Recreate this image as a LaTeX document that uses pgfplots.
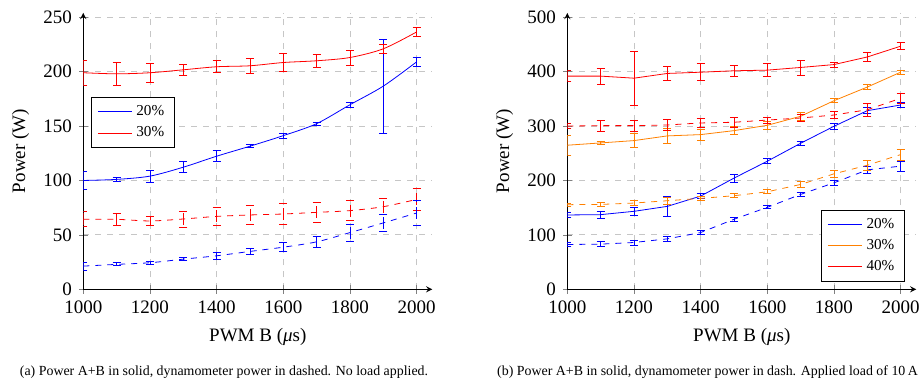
\documentclass[border=0pt]{standalone}
\usepackage{fontspec}
\setmainfont{Liberation Serif}
\usepackage{pgfplots}
\pgfplotsset{compat=1.18}
\pgfplotsset{
  myaxis/.style={
    scale only axis, width=174.5pt, height=138.2pt,
    xmin=1000, xmax=2047, ymin=0,
    axis lines=left,
    grid=major, grid style={dashed, gray!45},
    xtick={1000,1200,...,2000},
    tick label style={font=\fontsize{9.5}{11}\selectfont},
    label style={font=\fontsize{9.5}{11}\selectfont},
    /pgf/number format/assume math mode=true,
    /pgf/number format/1000 sep={},
    xlabel={PWM B ({\itshape μ}s)},
    ylabel={Power (W)},
    xlabel style={at={(axis description cs:0.5,-0.174)}, anchor=center},
    ylabel style={at={(axis description cs:-0.18,0.5)}, anchor=center},
    legend style={font=\fontsize{7.6}{8.5}\selectfont, draw=black, fill=white},
    every axis plot/.append style={mark=none},
  },
  eb/.style={error bars/y dir=both, error bars/y explicit},
}
\begin{document}
\begin{tikzpicture}
\path[use as bounding box] (-41.65pt,-47.35pt) rectangle (418.35pt,144.65pt);
% ---------------- (a) ----------------
\begin{axis}[myaxis, at={(0pt,0pt)}, anchor=south west,
  ymax=254, ytick={0,50,...,250},
  legend style={at={(axis description cs:0.022,0.696)}, anchor=north west}]
\addplot[blue, smooth, eb] coordinates {
 (1000,100) +- (0,8) (1100,101) +- (0,2.1) (1200,104) +- (0,5.5)
 (1300,112.2) +- (0,5) (1400,122.3) +- (0,4.9) (1500,131.5) +- (0,1.3)
 (1600,141.2) +- (0,2.3) (1700,152.2) +- (0,1.4) (1800,169.6) +- (0,2)
 (1900,186.7) +- (0,43.2) (2000,209) +- (0,4.4)};
\addlegendentry{20\%}
\addplot[red, smooth, eb] coordinates {
 (1000,199) +- (0,11.5) (1100,198) +- (0,10.7) (1200,199) +- (0,8.7)
 (1300,201.7) +- (0,4.9) (1400,204.5) +- (0,5.5) (1500,205.4) +- (0,6.9)
 (1600,208.4) +- (0,8) (1700,210) +- (0,5.9) (1800,213) +- (0,6.9)
 (1900,221) +- (0,4) (2000,236.5) +- (0,4.3)};
\addlegendentry{30\%}
\addplot[red, dashed, smooth, eb, forget plot] coordinates {
 (1000,64.3) +- (0,6.9) (1100,64.3) +- (0,5.5) (1200,62.8) +- (0,4.3)
 (1300,64.6) +- (0,7.4) (1400,67) +- (0,8.5) (1500,68.3) +- (0,8.9)
 (1600,69.2) +- (0,9.5) (1700,70.7) +- (0,9.2) (1800,72.3) +- (0,9)
 (1900,75.9) +- (0,7.2) (2000,82.6) +- (0,9.9)};
\addplot[blue, dashed, smooth, eb, forget plot] coordinates {
 (1000,21.3) +- (0,3.7) (1100,22.9) +- (0,1.4) (1200,24.4) +- (0,1.2)
 (1300,27.7) +- (0,1.4) (1400,30.8) +- (0,2.9) (1500,34.8) +- (0,2.5)
 (1600,38.7) +- (0,4.1) (1700,43.6) +- (0,5.4) (1800,52.1) +- (0,7.8)
 (1900,61) +- (0,7.8) (2000,70.1) +- (0,11.2)};
\end{axis}
% ---------------- (b) ----------------
\begin{axis}[myaxis, at={(242pt,0pt)}, anchor=south west,
  ymax=508, ytick={0,100,...,500},
  legend style={at={(axis description cs:0.967,0.0275)}, anchor=south east}]
\addplot[blue, eb] coordinates {
 (1000,136.6) +- (0,4.3) (1100,137.2) +- (0,6.4) (1200,143.3) +- (0,6.7)
 (1300,152.4) +- (0,18.3) (1400,171.3) +- (0,4.5) (1500,204.3) +- (0,7.7)
 (1600,235.4) +- (0,4.6) (1700,268.4) +- (0,3.6) (1800,299.6) +- (0,5.5)
 (1900,328.3) +- (0,5.8) (2000,338.7) +- (0,4.6)};
\addlegendentry{20\%}
\addplot[orange, eb] coordinates {
 (1000,264.8) +- (0,18.5) (1100,269) +- (0,3.3) (1200,273.3) +- (0,12.5)
 (1300,281.9) +- (0,13.6) (1400,284.3) +- (0,9.8) (1500,291.6) +- (0,7.3)
 (1600,301.4) +- (0,7.5) (1700,318) +- (0,6.7) (1800,346.6) +- (0,4)
 (1900,371.7) +- (0,4.3) (2000,399) +- (0,4)};
\addlegendentry{30\%}
\addplot[red, eb] coordinates {
 (1000,391.8) +- (0,9.8) (1100,391.8) +- (0,14.7) (1200,388) +- (0,49.5)
 (1300,396.7) +- (0,13.5) (1400,399) +- (0,15.3) (1500,401.6) +- (0,9.7)
 (1600,402.8) +- (0,11.6) (1700,407.7) +- (0,13.7) (1800,413) +- (0,4.3)
 (1900,427) +- (0,8.7) (2000,446.8) +- (0,6.4)};
\addlegendentry{40\%}
\addplot[blue, dashed, eb, forget plot] coordinates {
 (1000,82.3) +- (0,4.3) (1100,83) +- (0,4.9) (1200,86) +- (0,4.6)
 (1300,92.7) +- (0,4) (1400,104.3) +- (0,4.3) (1500,128.7) +- (0,3)
 (1600,150.6) +- (0,2.7) (1700,174.4) +- (0,3.7) (1800,195.7) +- (0,4.3)
 (1900,219.5) +- (0,6.6) (2000,226.3) +- (0,9.2)};
\addplot[orange, dashed, eb, forget plot] coordinates {
 (1000,155.5) +- (0,2.5) (1100,156) +- (0,3.5) (1200,158.5) +- (0,4.3)
 (1300,162.8) +- (0,6.1) (1400,167) +- (0,4) (1500,172) +- (0,3.5)
 (1600,179.2) +- (0,3.7) (1700,192.7) +- (0,6) (1800,212.2) +- (0,6.7)
 (1900,228) +- (0,9.8) (2000,247.6) +- (0,10.2)};
\addplot[red, dashed, eb, forget plot] coordinates {
 (1000,300) +- (0,4) (1100,300.8) +- (0,9.8) (1200,300.8) +- (0,9.8)
 (1300,302) +- (0,10.7) (1400,305.7) +- (0,8.5) (1500,307) +- (0,9.5)
 (1600,311) +- (0,5.5) (1700,314.8) +- (0,6) (1800,320.3) +- (0,7)
 (1900,330) +- (0,11.9) (2000,351) +- (0,9.2)};
\end{axis}
\node[font=\fontsize{6.95}{8}\selectfont] at (70.35pt,-41.2pt)
  {(a) Power A+B in solid, dynamometer power in dashed. No load applied.};
\node[font=\fontsize{6.95}{8}\selectfont] at (312.1pt,-41.2pt)
  {(b) Power A+B in solid, dynamometer power in dash. Applied load of 10\,A};
\end{tikzpicture}
\end{document}
